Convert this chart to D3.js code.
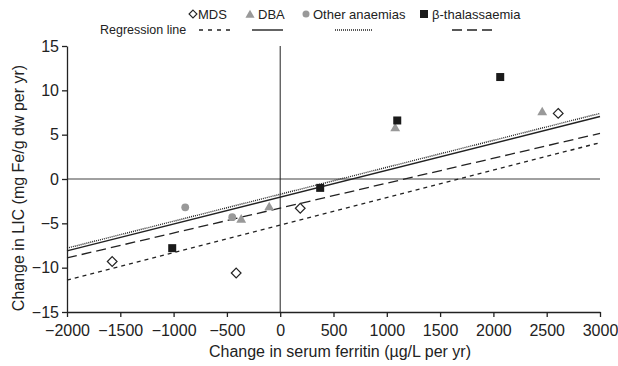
<!DOCTYPE html>
<html>
<head>
<meta charset="utf-8">
<script src="https://cdn.jsdelivr.net/npm/d3@7"></script>
<style>
body { margin:0; background:#fff; }
text { font-family: "Liberation Sans", Arial, sans-serif; fill:#222; }
</style>
</head>
<body>
<svg id="chart" width="618" height="366"></svg>
<script>
// data
var mdsX   = [-1576, -413, 188, 2608]
var mdsY   = [-9.3, -10.6, -3.3, 7.4]
var dbaX   = [-366, -103, 1079, 2458]
var dbaY   = [-4.6, -3.2, 5.7, 7.5]
var otherX = [-891, -450]
var otherY = [-3.2, -4.3]
var thalX  = [-1013, 375, 1098, 2064]
var thalY  = [-7.8, -1.0, 6.6, 11.5]

// regression lines: value at x=-2000 and x=3000
var lineEnds = [-2000, 3000]
var regMDS   = [-11.4, 4.1]
var regDBA   = [-8.1, 7.05]
var regOther = [-7.8, 7.4]
var regThal  = [-8.9, 5.15]

var xTicks = [-2000, -1500, -1000, -500, 0, 500, 1000, 1500, 2000, 2500, 3000]
var yTicks = [-15, -10, -5, 0, 5, 10, 15]

var svg = d3.select('#chart')
var x = d3.scaleLinear().domain([-2000, 3000]).range([67, 600])
var y = d3.scaleLinear().domain([-15, 15]).range([312, 46])
var fmt = d => (d < 0 ? '\u2212' : '') + Math.abs(d)

// zero lines
svg.append('line')
    .attr('x1', x(-2000)).attr('x2', x(3000))
    .attr('y1', y(0)).attr('y2', y(0))
    .style('stroke', '#808080').style('stroke-width', 1.6)
svg.append('line')
    .attr('x1', x(0)).attr('x2', x(0))
    .attr('y1', y(15)).attr('y2', y(-15))
    .style('stroke', '#222').style('stroke-width', 1)

// axes
var gx = svg.append('g')
    .attr('transform', 'translate(0,' + y(-15) + ')')
    .call(d3.axisBottom(x).tickValues(xTicks).tickFormat(fmt).tickSize(5).tickSizeOuter(0))
var gy = svg.append('g')
    .attr('transform', 'translate(' + x(-2000) + ',0)')
    .call(d3.axisLeft(y).tickValues(yTicks).tickFormat(fmt).tickSize(5).tickSizeOuter(0))

;[gx, gy].forEach(g=> {
    g.attr('font-size', null)
    g.select('.domain').style('stroke', '#222').style('stroke-width', 1.3)
    g.selectAll('.tick line').style('stroke', '#222').style('stroke-width', 1.3)
    g.selectAll('.tick text').style('font-size', '16px').style('font-family', '"Liberation Sans", Arial, sans-serif').attr('fill', '#222')
})
gx.selectAll('.tick text').attr('dy', '0.98em')

// regression lines
var lineGen = d3.line().x(d=> x(d[0])).y(d=> y(d[1]))
var regs = [
    { v:regMDS,   dash:'4,4',   w:1.3 },
    { v:regDBA,   dash:null,    w:1.4 },
    { v:regOther, dash:'1,1',   w:1.4 },
    { v:regThal,  dash:'10,5',  w:1.3 }
]
regs.forEach(r=> {
    svg.append('path')
        .attr('d', lineGen(lineEnds.map((e, i)=> [e, r.v[i]])))
        .style('fill', 'none')
        .style('stroke', '#222')
        .style('stroke-width', r.w)
        .style('stroke-dasharray', r.dash)
})

// points
var pts = (xs, ys)=> xs.map((v, i)=> [v, ys[i]])
var sym = (type, size)=> d3.symbol().type(type).size(size)

svg.selectAll('.mds').data(pts(mdsX, mdsY)).enter().append('path')
    .attr('transform', d=> 'translate(' + x(d[0]) + ',' + y(d[1]) + ')')
    .attr('d', sym(d3.symbolDiamond2, 60))
    .style('fill', '#fff').style('stroke', '#222').style('stroke-width', 1.2)
svg.selectAll('.dba').data(pts(dbaX, dbaY)).enter().append('path')
    .attr('transform', d=> 'translate(' + x(d[0]) + ',' + y(d[1]) + ')')
    .attr('d', sym(d3.symbolTriangle, 42))
    .style('fill', '#999')
svg.selectAll('.oth').data(pts(otherX, otherY)).enter().append('circle')
    .attr('cx', d=> x(d[0])).attr('cy', d=> y(d[1])).attr('r', 3.9)
    .style('fill', '#999')
svg.selectAll('.thal').data(pts(thalX, thalY)).enter().append('rect')
    .attr('x', d=> x(d[0]) - 4).attr('y', d=> y(d[1]) - 4)
    .attr('width', 8).attr('height', 8)
    .style('fill', '#1a1a1a')

// axis titles
svg.append('text')
    .attr('x', 340).attr('y', 357)
    .attr('text-anchor', 'middle')
    .style('font-size', '16px')
    .text('Change in serum ferritin (\u00b5g/L per yr)')
svg.append('text')
    .attr('transform', 'translate(24,188) rotate(-90)')
    .attr('text-anchor', 'middle')
    .style('font-size', '16px')
    .text('Change in LIC (mg Fe/g dw per yr)')

// legend
var lg = svg.append('g').style('font-size', '13px')
lg.append('path').attr('transform', 'translate(193,14)').attr('d', sym(d3.symbolDiamond2, 40))
    .style('fill', '#fff').style('stroke', '#222').style('stroke-width', 1.1)
lg.append('text').attr('x', 198).attr('y', 19).text('MDS')
lg.append('path').attr('transform', 'translate(250,15)').attr('d', sym(d3.symbolTriangle, 36))
    .style('fill', '#999')
lg.append('text').attr('x', 258).attr('y', 19).text('DBA')
lg.append('circle').attr('cx', 306).attr('cy', 14).attr('r', 3.5).style('fill', '#999')
lg.append('text').attr('x', 313).attr('y', 19).text('Other anaemias')
lg.append('rect').attr('x', 420).attr('y', 10).attr('width', 8).attr('height', 8).style('fill', '#1a1a1a')
lg.append('text').attr('x', 432).attr('y', 19).text('\u03b2-thalassaemia')
lg.append('text').attr('x', 100).attr('y', 34).style('font-size', '12.5px').text('Regression line')

var legLines = [[199, 230], [252, 283], [335, 373], [452, 492]]
legLines.forEach((p, i)=> {
    lg.append('line')
        .attr('x1', p[0]).attr('x2', p[1]).attr('y1', 30).attr('y2', 30)
        .style('stroke', '#222')
        .style('stroke-width', regs[i].w)
        .style('stroke-dasharray', i == 0 ? '4,5' : regs[i].dash)
})
</script>
</body>
</html>
